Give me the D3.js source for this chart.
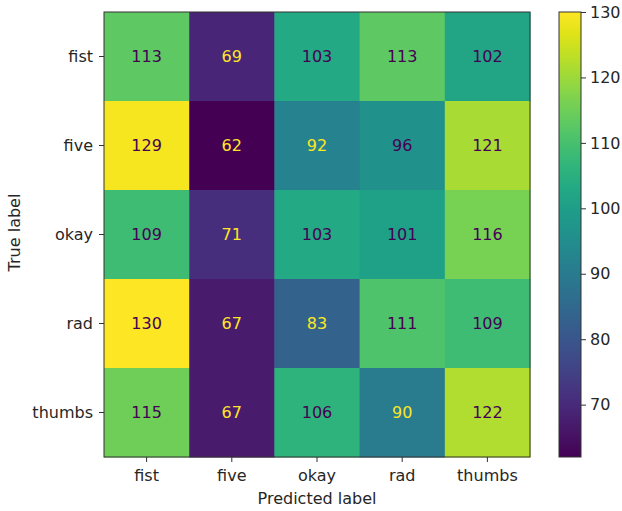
<!DOCTYPE html>
<html>
<head>
<meta charset="utf-8">
<script src="https://cdn.jsdelivr.net/npm/d3@7"></script>
<style>
  html, body { margin: 0; padding: 0; background: #fff; }
  svg { display: block; }
  text { font-family: "DejaVu Sans", sans-serif; fill: #262626; }
</style>
</head>
<body>
<svg id="chart" width="622" height="511"></svg>
<script>
// Confusion matrix: rows are true labels, columns are predicted labels
const classes = ["fist", "five", "okay", "rad", "thumbs"];
const rowFist   = [113, 69, 103, 113, 102];
const rowFive   = [129, 62, 92, 96, 121];
const rowOkay   = [109, 71, 103, 101, 116];
const rowRad    = [130, 67, 83, 111, 109];
const rowThumbs = [115, 67, 106, 90, 122];
const colorbarTicks = [70, 80, 90, 100, 110, 120, 130];

const matrix = [rowFist, rowFive, rowOkay, rowRad, rowThumbs];

const svg = d3.select("#chart");
const plot = { left: 104, top: 12, width: 426, height: 445 };
const cbar = { left: 559, top: 12, width: 22, height: 445 };
const fs = "16px";

const all = matrix.flat();
const vmin = d3.min(all), vmax = d3.max(all);
const color = d3.scaleSequential(d3.interpolateViridis).domain([vmin, vmax]);
const thresh = (vmin + vmax) / 2;

const x = d3.scaleBand().domain(classes).range([plot.left, plot.left + plot.width]);
const y = d3.scaleBand().domain(classes).range([plot.top, plot.top + plot.height]);

const cells = [];
matrix.forEach((row, i) => row.forEach((v, j) => cells.push({ t: classes[i], p: classes[j], v })));

svg.append("g").selectAll("rect").data(cells).join("rect")
  .attr("x", d => x(d.p))
  .attr("y", d => y(d.t))
  .attr("width", x.bandwidth() + 0.5)
  .attr("height", y.bandwidth() + 0.5)
  .attr("fill", d => color(d.v));

svg.append("g").selectAll("text").data(cells).join("text")
  .attr("x", d => x(d.p) + x.bandwidth() / 2)
  .attr("y", d => y(d.t) + y.bandwidth() / 2)
  .attr("dy", "0.36em")
  .attr("text-anchor", "middle")
  .style("font-size", fs)
  .style("fill", d => d.v < thresh ? color(vmax) : color(vmin))
  .text(d => d.v);

svg.append("rect")
  .attr("x", plot.left).attr("y", plot.top)
  .attr("width", plot.width).attr("height", plot.height)
  .attr("fill", "none").attr("stroke", "#333").attr("stroke-width", 1);

// axes
const gx = svg.append("g").attr("transform", `translate(0,${plot.top + plot.height})`)
  .call(d3.axisBottom(x).tickSize(5).tickPadding(8));
const gy = svg.append("g").attr("transform", `translate(${plot.left},0)`)
  .call(d3.axisLeft(y).tickSize(5).tickPadding(6));
[gx, gy].forEach(g => {
  g.select(".domain").remove();
  g.selectAll(".tick line").attr("stroke", "#333");
  g.selectAll(".tick text").style("font-size", fs).style("fill", "#262626")
    .attr("font-family", "DejaVu Sans");
});

svg.append("text")
  .attr("x", plot.left + plot.width / 2).attr("y", 504)
  .attr("text-anchor", "middle").style("font-size", fs)
  .text("Predicted label");

svg.append("text")
  .attr("transform", `translate(20,${plot.top + plot.height / 2 - 2}) rotate(-90)`)
  .attr("text-anchor", "middle").style("font-size", fs)
  .text("True label");

// colorbar
const defs = svg.append("defs");
const grad = defs.append("linearGradient").attr("id", "cbgrad")
  .attr("x1", "0").attr("y1", "1").attr("x2", "0").attr("y2", "0");
d3.range(0, 1.0001, 0.05).forEach(t => {
  grad.append("stop").attr("offset", t).attr("stop-color", d3.interpolateViridis(t));
});
svg.append("rect")
  .attr("x", cbar.left).attr("y", cbar.top)
  .attr("width", cbar.width).attr("height", cbar.height)
  .attr("fill", "url(#cbgrad)").attr("stroke", "#333").attr("stroke-width", 1);

const cy = d3.scaleLinear().domain([vmin, vmax]).range([cbar.top + cbar.height, cbar.top]);
const gc = svg.append("g").attr("transform", `translate(${cbar.left + cbar.width},0)`)
  .call(d3.axisRight(cy).tickValues(colorbarTicks).tickSize(5).tickPadding(4));
gc.select(".domain").remove();
gc.selectAll(".tick line").attr("stroke", "#333");
gc.selectAll(".tick text").style("font-size", fs).style("fill", "#262626")
  .attr("font-family", "DejaVu Sans");
</script>
</body>
</html>
